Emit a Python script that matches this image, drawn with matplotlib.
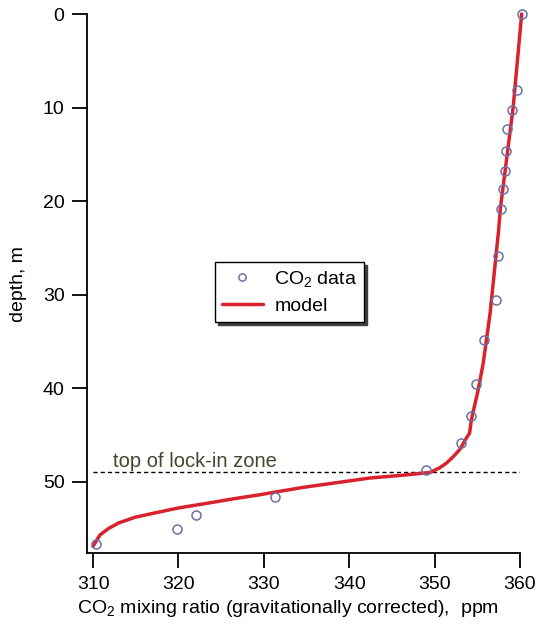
import matplotlib
matplotlib.use("Agg")
import matplotlib.pyplot as plt

# firn air CO2 profile, measured flasks
data_co2 = [360.2, 359.6, 359.1, 358.5, 358.4, 358.3, 358.0, 357.8, 357.4, 357.2,
            355.8, 354.8, 354.3, 353.1, 349.0, 331.3, 322.1, 319.8, 310.4]
data_depth = [0.0, 8.1, 10.3, 12.3, 14.6, 16.8, 18.7, 20.8, 25.9, 30.6,
              34.8, 39.6, 43.0, 45.9, 48.75, 51.6, 53.5, 55.0, 56.6]

# diffusion model profile
model_co2 = [360.2, 359.2, 357.7, 357.5, 356.5, 355.7, 355.1, 354.3, 354.1, 353.6,
             353.0, 352.2, 351.4, 350.6, 349.5, 346.3, 342.4, 338.5, 334.6, 330.7,
             329.8, 326.6, 322.7, 320.0, 316.9, 314.9, 313.0, 311.8, 310.8, 310.2,
             310.0]
model_depth = [0.0, 10.0, 20.8, 23.1, 32.0, 37.3, 40.2, 43.4, 44.8, 45.5,
               46.5, 47.3, 48.0, 48.5, 49.0, 49.3, 49.6, 50.1, 50.6, 51.2,
               51.35, 51.8, 52.4, 52.8, 53.4, 53.8, 54.4, 55.0, 55.7, 56.6,
               56.9]

lockin_depth = 49.0
xticks = [310, 320, 330, 340, 350, 360]
yticks = [0, 10, 20, 30, 40, 50]

plt.rcParams["font.family"] = ["Liberation Sans", "DejaVu Sans"]
plt.rcParams["mathtext.fontset"] = "custom"
plt.rcParams["mathtext.rm"] = "Liberation Sans"
plt.rcParams["mathtext.it"] = "Liberation Sans:italic"

fig = plt.figure(figsize=(5.39, 6.28), dpi=100)
ax = fig.add_axes([0.1609, 0.1189, 0.8038, 0.8588])

ax.axhline(lockin_depth, xmin=(310 - 309.26) / (360 - 309.26), xmax=1.0,
           color="black", lw=1.0, ls=(0, (3, 2.2)))
ax.text(312.3, 48.4, "top of lock-in zone", color="#3d4a2c", fontsize=14.5)

ax.plot(model_co2, model_depth, color="#d8232f", lw=2.5, label="model",
        clip_on=False, zorder=3, solid_capstyle="round", solid_joinstyle="round")
ax.plot(data_co2, data_depth, ls="none", marker="o", ms=6.5, mfc="none",
        mec="#6f6fa8", mew=1.1, label="CO$_2$ data", clip_on=False, zorder=4)

ax.set_xlim(309.26, 360)
ax.set_ylim(57.65, 0)
ax.set_xticks(xticks)
ax.set_yticks(yticks)

for side in ["top", "right"]:
    ax.spines[side].set_visible(False)
for side in ["left", "bottom"]:
    ax.spines[side].set_linewidth(1.3)
ax.tick_params(length=11, width=1.3, labelsize=14, pad=5)

ax.set_xlabel("CO$_2$ mixing ratio (gravitationally corrected),  ppm",
              fontsize=14, labelpad=5)
ax.xaxis.set_label_coords(0.465, -0.082)
ax.set_ylabel("depth, m", fontsize=14, labelpad=11)

handles, labels = ax.get_legend_handles_labels()
leg = ax.legend(handles[::-1], labels[::-1], loc="upper left",
                bbox_to_anchor=(0.296, 0.540), fontsize=14, frameon=True,
                fancybox=False, shadow={"color": "0.25", "alpha": 1.0, "ox": 2, "oy": -2},
                edgecolor="black", markerscale=0.8, handlelength=2.1,
                borderpad=0.35, labelspacing=0.45, handletextpad=0.6,
                borderaxespad=0)
leg.get_frame().set_linewidth(1.0)

fig.savefig("out.png", dpi=100)
